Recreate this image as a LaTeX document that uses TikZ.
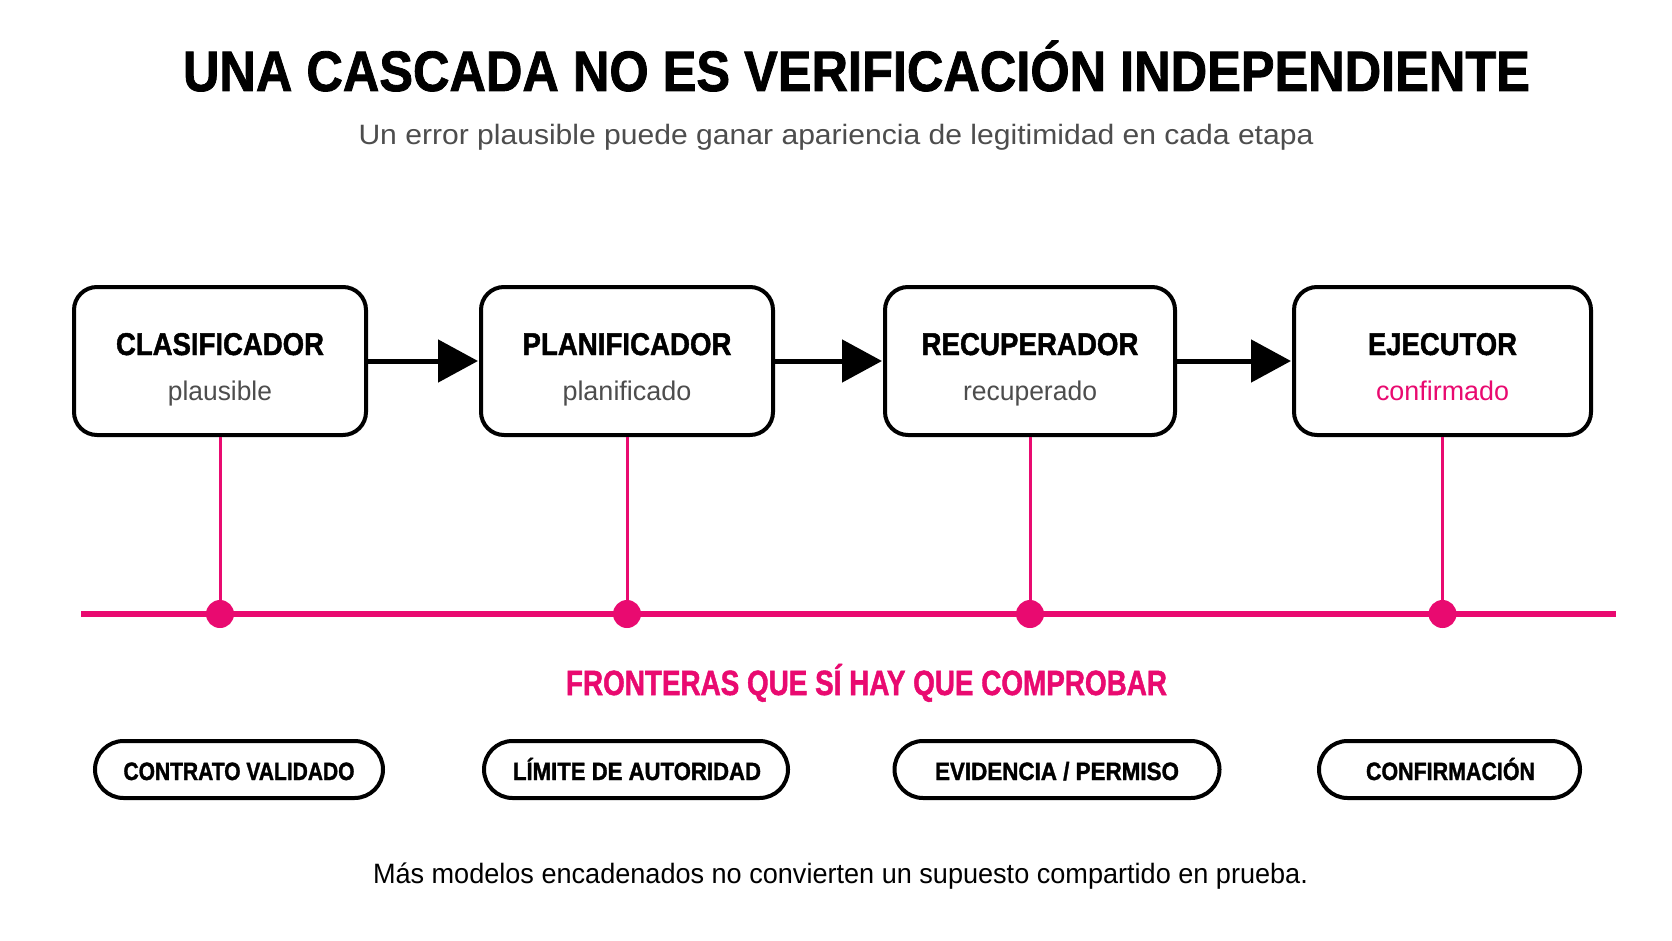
\documentclass[tikz,border=0pt]{standalone}
\usepackage{fontspec}
\setmainfont{Liberation Sans}
\newfontfamily\hv{Liberation Sans}[BoldFeatures={FakeBold=1.5}]
\usepackage{graphicx}
\usetikzlibrary{arrows.meta}
\definecolor{pk}{HTML}{E90A70}
\definecolor{gr}{HTML}{4D4D4D}
\newcommand\fitw[2]{\resizebox{#1}{\height}{#2}}
\begin{document}
\begin{tikzpicture}[x=1pt,y=-1pt,
  txt/.style={anchor=base, inner sep=0pt, outer sep=0pt},
  ttl/.style={txt, font=\fontsize{57}{60}\selectfont\hv\bfseries},
  subt/.style={txt, text=gr, font=\fontsize{28}{30}\selectfont},
  btitle/.style={txt, font=\fontsize{31.5}{34}\selectfont\hv\bfseries},
  bsub/.style={txt, text=gr, font=\fontsize{27}{30}\selectfont},
  stagebox/.style={draw=black, line width=4pt, rounded corners=23pt, minimum width=#1, minimum height=148pt, inner sep=0pt, fill=white},
  flow/.style={line width=5pt, -{Triangle[length=40pt,width=42pt]}, shorten >=1pt},
  rail/.style={draw=pk, line width=6pt},
  stem/.style={draw=pk, line width=3pt},
  dot/.style={circle, fill=pk, minimum size=28pt, inner sep=0pt},
  head/.style={txt, text=pk, font=\fontsize{35}{38}\selectfont\hv\bfseries},
  pill/.style={draw=black, line width=4pt, rounded corners=28.5pt, minimum height=57pt, minimum width=#1, inner sep=0pt},
  ptext/.style={txt, font=\fontsize{25}{28}\selectfont\hv\bfseries},
  foot/.style={txt, font=\fontsize{28}{30}\selectfont}
]
\fill[white] (0,0) rectangle (1672,941);
\useasboundingbox (0,0) rectangle (1672,941);

% title
\node[ttl] (title) at (856.5,91) {\fitw{1347pt}{UNA CASCADA NO ES VERIFICACIÓN INDEPENDIENTE}};
\node[subt] (subtitle) at (836,145) {\fitw{955pt}{Un error plausible puede ganar apariencia de legitimidad en cada etapa}};

% stage boxes
\node[stagebox=292pt] (b1) at (220,361) {};
\node[stagebox=292pt] (b2) at (627,361) {};
\node[stagebox=290pt] (b3) at (1030,361) {};
\node[stagebox=297pt] (b4) at (1442.5,361) {};

\node[btitle] (t1) at (220,355) {\fitw{208pt}{CLASIFICADOR}};
\node[btitle] (t2) at (627,355) {\fitw{209pt}{PLANIFICADOR}};
\node[btitle] (t3) at (1030,355) {\fitw{217pt}{RECUPERADOR}};
\node[btitle] (t4) at (1442.5,355) {\fitw{149pt}{EJECUTOR}};

\node[bsub] (s1) at (220,400) {\fitw{104pt}{plausible}};
\node[bsub] (s2) at (627,400) {\fitw{129pt}{planificado}};
\node[bsub] (s3) at (1030,400) {\fitw{134pt}{recuperado}};
\node[bsub, text=pk] (s4) at (1442.5,400) {\fitw{133pt}{confirmado}};

% flow arrows
\draw[flow] (b1.east) -- (b2.west);
\draw[flow] (b2.east) -- (b3.west);
\draw[flow] (b3.east) -- (b4.west);

% rail
\coordinate (rl) at (81,614);
\coordinate (rr) at (1616,614);
\draw[rail] (rl) -- (rr);
\node[dot] (d1) at (220,614) {};
\node[dot] (d2) at (627,614) {};
\node[dot] (d3) at (1030,614) {};
\node[dot] (d4) at (1442.5,614) {};
\draw[stem] (b1.south) -- (d1.center);
\draw[stem] (b2.south) -- (d2.center);
\draw[stem] (b3.south) -- (d3.center);
\draw[stem] (b4.south) -- (d4.center);

% heading
\node[head] (heading) at (866.5,695) {\fitw{601pt}{FRONTERAS QUE SÍ HAY QUE COMPROBAR}};

% pills
\node[pill=288pt] (p1) at (239,769.5) {};
\node[pill=304pt] (p2) at (636,769.5) {};
\node[pill=325pt] (p3) at (1057,769.5) {};
\node[pill=261pt] (p4) at (1449.5,769.5) {};
\node[ptext] (q1) at (239,780) {\fitw{231pt}{CONTRATO VALIDADO}};
\node[ptext] (q2) at (637,780) {\fitw{248pt}{LÍMITE DE AUTORIDAD}};
\node[ptext] (q3) at (1057,780) {\fitw{244pt}{EVIDENCIA / PERMISO}};
\node[ptext] (q4) at (1450.5,780) {\fitw{169pt}{CONFIRMACIÓN}};

% footer
\node[foot] (footer) at (840.5,883) {\fitw{935pt}{Más modelos encadenados no convierten un supuesto compartido en prueba.}};
\end{tikzpicture}
\end{document}
